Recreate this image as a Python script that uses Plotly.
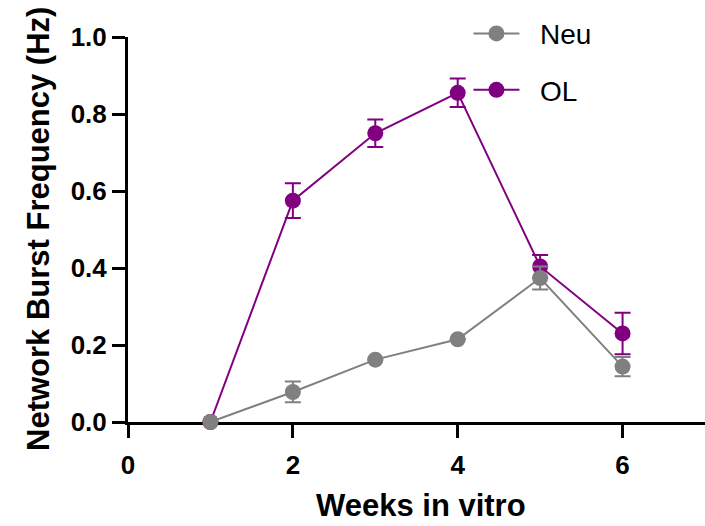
import plotly.graph_objects as go

weeks = [1, 2, 3, 4, 5, 6]
neu_mean = [0.0, 0.078, 0.162, 0.215, 0.374, 0.144]
neu_err = [0.0, 0.027, 0.0, 0.0, 0.030, 0.025]
ol_mean = [0.0, 0.575, 0.750, 0.855, 0.404, 0.230]
ol_err = [0.0, 0.045, 0.036, 0.037, 0.030, 0.054]

x_ticks = [0, 2, 4, 6]
y_ticks = [0.0, 0.2, 0.4, 0.6, 0.8, 1.0]

PURPLE = "#800080"
GREY = "#808080"
FONT = "Liberation Sans, Arial, sans-serif"
PAD = "\u00a0\u00a0"

fig = go.Figure()

fig.add_trace(go.Scatter(
    x=weeks, y=ol_mean, name=PAD + "OL", mode="lines+markers",
    line=dict(color=PURPLE, width=2),
    marker=dict(color=PURPLE, size=16),
    error_y=dict(type="data", array=ol_err, color=PURPLE, thickness=2, width=8),
    cliponaxis=False, legendrank=2, legendgroup="ol",
))
fig.add_trace(go.Scatter(
    x=weeks, y=neu_mean, name=PAD + "Neu", mode="lines+markers",
    line=dict(color=GREY, width=2),
    marker=dict(color=GREY, size=16),
    error_y=dict(type="data", array=neu_err, color=GREY, thickness=2, width=8),
    cliponaxis=False, legendrank=1, legendgroup="neu",
))

fig.update_layout(
    width=705, height=526,
    margin=dict(l=128, r=0, t=37, b=104),
    plot_bgcolor="white", paper_bgcolor="white",
    showlegend=True,
    legend=dict(
        x=0.590, y=1.0734, xanchor="left", yanchor="top",
        font=dict(family=FONT, size=28, color="black"),
        bgcolor="rgba(0,0,0,0)", tracegroupgap=17,
        itemwidth=46,
    ),
    xaxis=dict(
        range=[0, 7], tickvals=x_ticks, ticktext=[str(v) for v in x_ticks],
        showgrid=False, zeroline=False, showline=True,
        linecolor="black", linewidth=3,
        ticks="outside", ticklen=13, tickwidth=3, tickcolor="black",
        ticklabelstandoff=5,
        tickfont=dict(family=FONT, size=26, color="black", weight="bold"),
        layer="below traces",
    ),
    yaxis=dict(
        range=[0, 1.0], tickvals=y_ticks, ticktext=[f"{v:.1f}" for v in y_ticks],
        showgrid=False, zeroline=False, showline=True,
        linecolor="black", linewidth=3,
        ticks="outside", ticklen=13, tickwidth=3, tickcolor="black",
        tickfont=dict(family=FONT, size=26, color="black", weight="bold"),
        layer="below traces",
    ),
    annotations=[
        dict(text="Weeks in vitro", xref="paper", yref="paper",
             x=0.508, y=-0.2156, xanchor="center", yanchor="middle",
             showarrow=False,
             font=dict(family=FONT, size=31, color="black", weight="bold")),
        dict(text="Network Burst Frequency (Hz)", xref="paper", yref="paper",
             x=(38.5 - 128) / 577, y=0.5, xanchor="center", yanchor="middle",
             textangle=-90, showarrow=False,
             font=dict(family=FONT, size=31, color="black", weight="bold")),
    ],
)

fig.write_html("out.html")
